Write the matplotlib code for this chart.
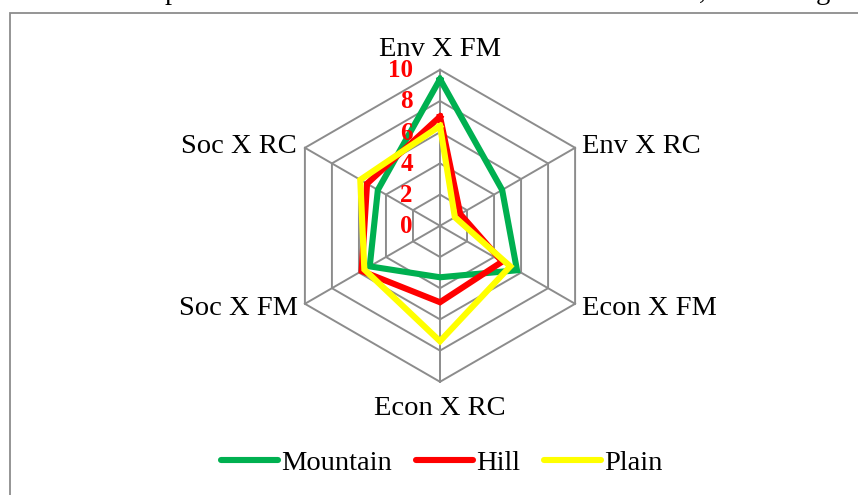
import numpy as np
import matplotlib
matplotlib.use('Agg')
from matplotlib import pyplot as plt
from matplotlib.patches import Rectangle

# axes of the radar, clockwise from the top
axes_names = ['Env X FM', 'Env X RC', 'Econ X FM', 'Econ X RC', 'Soc X FM', 'Soc X RC']
ring_vals = [0, 2, 4, 6, 8, 10]

mountain = [9.4, 4.6, 5.7, 3.3, 5.2, 4.6]
hill = [7.0, 1.5, 4.6, 4.9, 5.8, 5.4]
plain = [6.4, 1.1, 5.2, 7.4, 5.6, 5.9]

series = [('Mountain', mountain, '#00B050'),
          ('Hill', hill, '#FF0000'),
          ('Plain', plain, '#FFFF00')]

plt.rcParams['font.family'] = ['Liberation Serif', 'DejaVu Serif']

W, H = 858, 495
cx, cy = 440, 225.8      # centre in pixels (from top)
scale = 15.6             # pixels per unit

fig = plt.figure(figsize=(W / 100, H / 100), dpi=100)
ax = fig.add_axes([0, 0, 1, 1])
ax.set_xlim(-cx / scale, (W - cx) / scale)
ax.set_ylim(-(H - cy) / scale, cy / scale)
ax.axis('off')

n = len(axes_names)
ang = np.arange(n) * 2 * np.pi / n

def xy(vals):
    v = np.asarray(vals, dtype=float)
    x = v * np.sin(ang)
    y = v * np.cos(ang)
    return np.append(x, x[0]), np.append(y, y[0])

grid_col = '#8c8c8c'
# hexagon rings
for r in ring_vals[1:]:
    gx, gy = xy([r] * n)
    ax.plot(gx, gy, color=grid_col, lw=1.4, zorder=1)
# spokes
for a in ang:
    ax.plot([0, 10 * np.sin(a)], [0, 10 * np.cos(a)], color=grid_col, lw=1.4, zorder=1)

# data lines
for name, vals, col in series:
    sx, sy = xy(vals)
    ax.plot(sx, sy, color=col, lw=4.4, solid_joinstyle='miter', label=name, zorder=3)

# tick labels
for r in ring_vals:
    ax.text(-27 / scale, r - 7.4 / scale, str(r), color='#FF0000', fontsize=18,
            fontweight='bold', ha='right', va='baseline', zorder=4)

# category labels (pixel positions converted to data)
def px(x, y):
    return (x - cx) / scale, (cy - y) / scale

lab_pos = [(440, 56, 'center'), (582, 153, 'left'), (582, 315, 'left'),
           (440, 415, 'center'), (298, 315, 'right'), (297, 153, 'right')]
for name, (lx, ly, ha) in zip(axes_names, lab_pos):
    dx, dy = px(lx, ly)
    ax.text(dx, dy, name, fontsize=20.5, ha=ha, va='baseline')

# legend
leg = fig.legend(loc='center', bbox_to_anchor=(0.515, 1 - 463 / H), ncol=3,
                 frameon=False, fontsize=20.5, handlelength=2.0,
                 handletextpad=0.1, columnspacing=0.85)
for h in leg.get_lines():
    h.set_solid_capstyle('round')
    h.set_linewidth(4.4)

# chart frame
fig.patches.append(Rectangle((9.5 / W, -0.1), 1.2, 1 - 12.5 / H + 0.1,
                             transform=fig.transFigure, fill=False,
                             edgecolor=grid_col, lw=1.3))

# cut-off text line from above the chart
for gx_, g in [(172, 'p'), (702, ','), (823, 'g')]:
    fig.text(gx_ / W, 1 + 1.5 / H, g, fontsize=20.5, ha='center', va='baseline')

plt.savefig('out.png', dpi=100)
